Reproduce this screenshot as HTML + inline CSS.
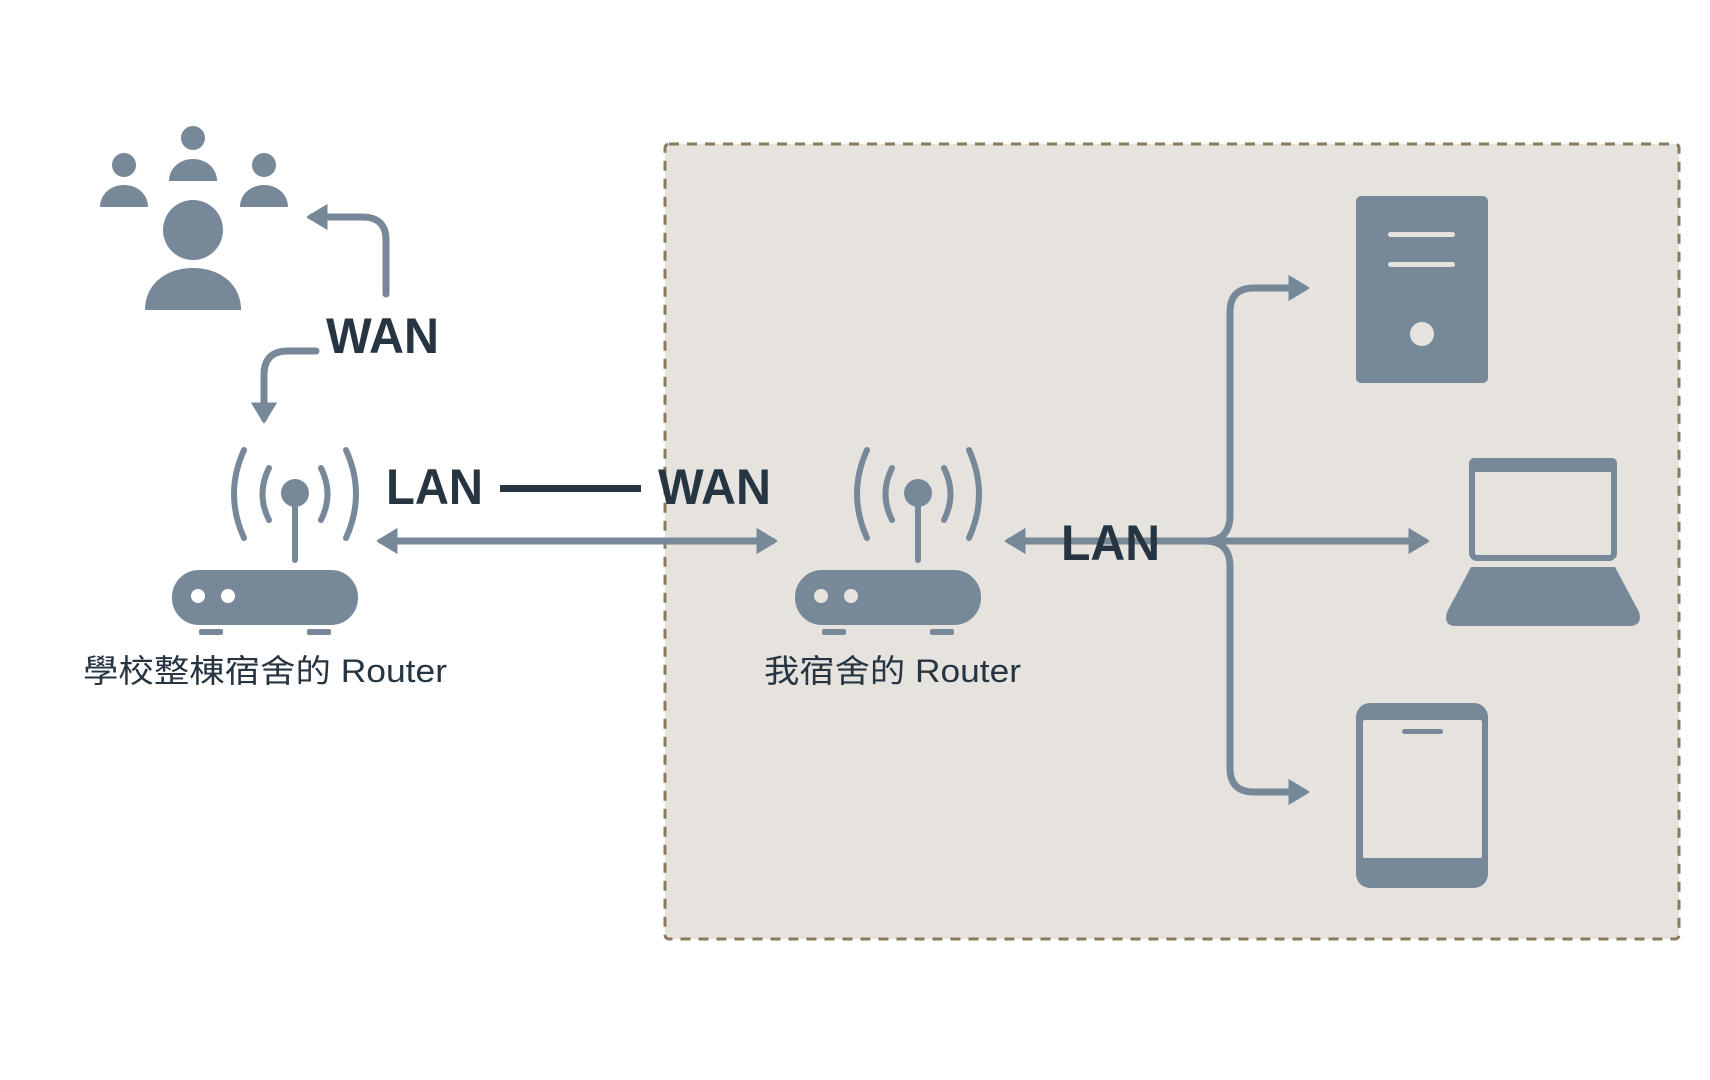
<!DOCTYPE html>
<html><head><meta charset="utf-8"><style>
html,body{margin:0;padding:0;background:#fff;}
svg{display:block}
text{font-family:"Liberation Sans","Noto Sans CJK TC",sans-serif;fill:#263541}
</style></head><body>
<svg width="1710" height="1080" viewBox="0 0 1710 1080" xmlns="http://www.w3.org/2000/svg">
<defs>
<marker id="ah" markerWidth="4" markerHeight="4" refX="2.2" refY="2" orient="auto" markerUnits="strokeWidth">
<path d="M0,0.3 L2.8,2 L0,3.7 Z" fill="#778899" stroke="#778899" stroke-width="0.3" stroke-linejoin="round"/>
</marker>
</defs>
<rect x="665" y="144" width="1014" height="795" rx="4" fill="#e6e3de" stroke="#8a7b5e" stroke-width="3" stroke-dasharray="10,8"/>
<g fill="#778899">
<circle cx="193" cy="230" r="30"/>
<path d="M145,310 C145,285 165,268 193,268 C221,268 241,285 241,310 Z"/>
<circle cx="193" cy="138" r="12"/>
<path d="M169,181 C169,168 180,159 193,159 C206,159 217,168 217,181 Z"/>
<circle cx="124" cy="165" r="12"/>
<path d="M100,207 C100,194 111,185 124,185 C137,185 148,194 148,207 Z"/>
<circle cx="264" cy="165" r="12"/>
<path d="M240,207 C240,194 251,185 264,185 C277,185 288,194 288,207 Z"/>
</g>
<g fill="none" stroke="#778899" stroke-width="7" stroke-linecap="round">
<path d="M386,294 L386,240 Q386,217 362,217 L312,217" marker-end="url(#ah)"/>
<path d="M316,351 L288,351 Q264,351 264,375 L264,418" marker-end="url(#ah)"/>
<path d="M385,541 L772,541" marker-end="url(#ah)"/>
<path d="M772,541 L382,541" marker-end="url(#ah)"/>
<path d="M1230,541 L1010,541" marker-end="url(#ah)"/>
<path d="M1200,541 L1424,541" marker-end="url(#ah)"/>
<path d="M1205,541 Q1230,541 1230,515 L1230,312 Q1230,288 1254,288 L1304,288" marker-end="url(#ah)"/>
<path d="M1205,541 Q1230,541 1230,567 L1230,768 Q1230,792 1254,792 L1304,792" marker-end="url(#ah)"/>
</g>
<g>
<g fill="none" stroke="#778899" stroke-width="6" stroke-linecap="round">
<path d="M244,450 Q224,494 244,538"/>
<path d="M346,450 Q366,494 346,538"/>
<path d="M269,468 Q256,494 269,520"/>
<path d="M321,468 Q334,494 321,520"/>
<path d="M295,500 L295,560"/>
</g>
<g fill="#778899">
<circle cx="295" cy="493" r="14"/>
<rect x="172" y="570" width="186" height="55" rx="27"/>
<rect x="199" y="629" width="24" height="6" rx="2"/>
<rect x="307" y="629" width="24" height="6" rx="2"/>
</g>
<circle cx="198" cy="596" r="7" fill="#fff"/>
<circle cx="228" cy="596" r="7" fill="#fff"/>
</g>
<g transform="translate(623,0)">
<g fill="none" stroke="#778899" stroke-width="6" stroke-linecap="round">
<path d="M244,450 Q224,494 244,538"/>
<path d="M346,450 Q366,494 346,538"/>
<path d="M269,468 Q256,494 269,520"/>
<path d="M321,468 Q334,494 321,520"/>
<path d="M295,500 L295,560"/>
</g>
<g fill="#778899">
<circle cx="295" cy="493" r="14"/>
<rect x="172" y="570" width="186" height="55" rx="27"/>
<rect x="199" y="629" width="24" height="6" rx="2"/>
<rect x="307" y="629" width="24" height="6" rx="2"/>
</g>
<circle cx="198" cy="596" r="7" fill="#e6e3de"/>
<circle cx="228" cy="596" r="7" fill="#e6e3de"/>
</g>
<g transform="translate(-7,0)">
<rect x="1363" y="196" width="132" height="187" rx="5" fill="#778899"/>
<rect x="1395" y="232" width="67" height="5" rx="2.5" fill="#e6e3de"/>
<rect x="1395" y="262" width="67" height="5" rx="2.5" fill="#e6e3de"/>
<circle cx="1429" cy="334" r="12" fill="#e6e3de"/>
<rect x="1479" y="461" width="142" height="97" rx="5" fill="none" stroke="#778899" stroke-width="6"/>
<rect x="1476" y="458" width="148" height="14" rx="5" fill="#778899"/>
<path d="M1478,567 L1622,567 L1646,612 Q1650,626 1636,626 L1463,626 Q1450,626 1454,612 Z" fill="#778899"/>
<rect x="1363" y="703" width="132" height="185" rx="14" fill="#778899"/>
<rect x="1370" y="720" width="119" height="138" rx="2" fill="#e6e3de"/>
<rect x="1409" y="729" width="41" height="5" rx="2.5" fill="#778899"/>
</g>
<text x="326" y="353" font-size="50" font-weight="bold" textLength="113" lengthAdjust="spacingAndGlyphs">WAN</text>
<text x="386" y="504" font-size="50" font-weight="bold" textLength="97" lengthAdjust="spacingAndGlyphs">LAN</text>
<rect x="500" y="485" width="141" height="7" fill="#263541"/>
<text x="658" y="504" font-size="50" font-weight="bold" textLength="113" lengthAdjust="spacingAndGlyphs">WAN</text>
<text x="1061" y="560" font-size="50" font-weight="bold" textLength="99" lengthAdjust="spacingAndGlyphs">LAN</text>
<text x="83" y="682" font-size="32" textLength="364" lengthAdjust="spacingAndGlyphs">學校整棟宿舍的 Router</text>
<text x="764" y="682" font-size="32" textLength="257" lengthAdjust="spacingAndGlyphs">我宿舍的 Router</text>
</svg>
</body></html>
